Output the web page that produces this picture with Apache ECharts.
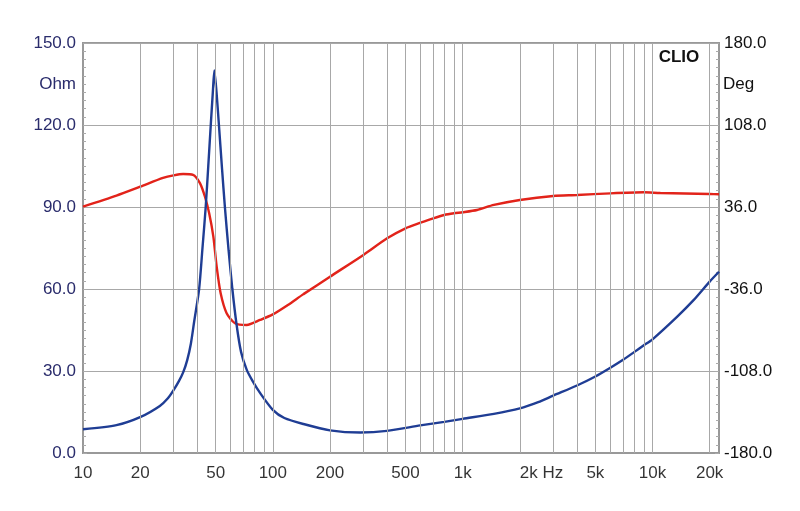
<!DOCTYPE html>
<html><head><meta charset="utf-8">
<script src="https://cdn.jsdelivr.net/npm/echarts@6/dist/echarts.min.js"></script>
<style>html,body{margin:0;padding:0;background:#fff}#c{width:800px;height:511px}</style>
</head><body><div id="c"></div>
<script>
// Impedance magnitude (Ohm, left axis)
const impFreq = [10, 15, 20, 25.4, 28, 30, 32, 33.7, 35.4, 37, 38.5, 40.9, 42.6, 44.3, 45.7, 47.1, 48.3, 49.2, 50.5, 52, 54, 55.9, 58.5, 61.2, 64.4, 68, 72.8, 78, 85.6, 100, 115, 145, 200, 289, 399, 598, 800, 1000, 1460, 2000, 2500, 3000, 4000, 5000, 6000, 7000, 8000, 9000, 10000, 13500, 16500, 20000, 22400];
const impOhm  = [8.7, 10.2, 13.1, 17.2, 20, 23, 26.3, 29.5, 34, 40, 48, 60, 75, 90, 105, 120, 132, 140, 132, 120, 104, 90, 74, 60, 47, 37, 30.5, 26.5, 22, 15.8, 12.8, 10.6, 8.3, 7.5, 8.1, 10.1, 11.4, 12.5, 14.3, 16.3, 18.6, 21.0, 24.7, 28.0, 31.2, 34.1, 36.9, 39.4, 41.6, 49.9, 56, 62.7, 66.3];
// Impedance phase (Deg, right axis)
const phaseFreq = [10, 15, 20, 26.4, 30, 33.7, 38, 41.3, 43.9, 46.2, 48.6, 50.6, 53.1, 57.1, 63.2, 72.8, 85.6, 100, 120, 145, 200, 300, 400, 500, 600, 700, 800, 900, 1000, 1190, 1460, 2000, 3000, 4000, 6000, 9000, 11000, 20000, 22400];
const phaseDeg  = [36.3, 46, 53.8, 61.5, 63.8, 65, 64.3, 57, 45, 30.5, 10, -16.4, -39.8, -57.3, -66.1, -67.6, -63.2, -58.3, -50, -40.5, -25.2, -6.1, 8.5, 17.3, 22.2, 26.1, 29, 30.5, 31.4, 33.4, 37.8, 42.2, 45.7, 46.5, 48, 48.9, 48.3, 47.4, 47.2];
// Axis labels and gridlines
const xTickValues = [10, 20, 50, 100, 200, 500, 1000, 2000, 5000, 10000, 20000];
const xTickLabels = ['10', '20', '50', '100', '200', '500', '1k', '2k Hz', '5k', '10k', '20k'];
const gridFreqs = [20, 30, 40, 50, 60, 70, 80, 90, 100, 200, 300, 400, 500, 600, 700, 800, 900, 1000, 2000, 3000, 4000, 5000, 6000, 7000, 8000, 9000, 10000, 20000];

const FONT = '"Liberation Sans", Arial, sans-serif';
const NAVY = '#2a2c6c';
const chart = echarts.init(document.getElementById('c'), null, {renderer: 'canvas'});

const tickData = xTickValues.map((v, i) => {
  const d = {value: [v, 0], name: xTickLabels[i]};
  if (xTickLabels[i] === '2k Hz') d.label = {align: 'left', offset: [-9, 0]};
  return d;
});

chart.setOption({
  animation: false,
  textStyle: {fontFamily: FONT},
  grid: {left: 83, right: 81, top: 43, bottom: 58, show: true, borderColor: '#999', borderWidth: 2, backgroundColor: '#fff'},
  xAxis: {
    type: 'log', logBase: 10, min: 10, max: 22400,
    axisLine: {show: true, lineStyle: {color: '#999', width: 2}},
    axisTick: {show: false}, axisLabel: {show: false}, splitLine: {show: false}, minorSplitLine: {show: false}
  },
  yAxis: [
    {
      type: 'value', min: 0, max: 150, interval: 30, position: 'left',
      axisLine: {show: true, lineStyle: {color: '#999', width: 2}},
      axisTick: {show: true, inside: true, length: 4, lineStyle: {color: '#aaa'}},
      minorTick: {show: true, splitNumber: 10, length: 3, lineStyle: {color: '#aaa'}},
      axisLabel: {color: NAVY, fontSize: 17, margin: 7, formatter: v => v.toFixed(1)},
      splitLine: {show: true, lineStyle: {color: '#a8a8a8', width: 1}}
    },
    {
      type: 'value', min: -180, max: 180, interval: 72, position: 'right',
      axisLine: {show: true, lineStyle: {color: '#999', width: 2}},
      axisTick: {show: true, inside: true, length: 4, lineStyle: {color: '#aaa'}},
      minorTick: {show: true, splitNumber: 10, length: 3, lineStyle: {color: '#aaa'}},
      axisLabel: {color: '#111', fontSize: 17, margin: 5, formatter: v => v.toFixed(1)},
      splitLine: {show: false}
    }
  ],
  series: [
    {
      type: 'line', yAxisIndex: 0, data: [], silent: true,
      markLine: {
        silent: true, symbol: 'none', label: {show: false},
        lineStyle: {color: '#a8a8a8', type: 'solid', width: 1},
        data: gridFreqs.map(f => ({xAxis: f}))
      }
    },
    {
      type: 'scatter', yAxisIndex: 0, symbolSize: 1, silent: true, clip: false,
      itemStyle: {color: 'rgba(0,0,0,0)'},
      label: {show: true, position: 'bottom', distance: 11, color: '#000', fontSize: 17, fontFamily: FONT,
        formatter: p => p.name},
      labelLayout: {hideOverlap: false},
      data: tickData
    },
    {
      name: 'Phase', type: 'line', yAxisIndex: 1, smooth: 0.25, showSymbol: false,
      lineStyle: {color: '#e2231a', width: 2.4}, itemStyle: {color: '#e2231a'},
      data: phaseFreq.map((f, i) => [f, phaseDeg[i]])
    },
    {
      name: 'Impedance', type: 'line', yAxisIndex: 0, smooth: 0.25, showSymbol: false,
      lineStyle: {color: '#1f3d94', width: 2.4}, itemStyle: {color: '#1f3d94'},
      data: impFreq.map((f, i) => [f, impOhm[i]])
    }
  ],
  graphic: [
    {type: 'text', x: 679, y: 57, style: {text: 'CLIO', font: 'bold 17px ' + FONT, fill: '#111', textAlign: 'center', textVerticalAlign: 'middle'}},
    {type: 'text', x: 76, y: 84, style: {text: 'Ohm', font: '17px ' + FONT, fill: NAVY, textAlign: 'right', textVerticalAlign: 'middle'}},
    {type: 'text', x: 723, y: 84, style: {text: 'Deg', font: '17px ' + FONT, fill: '#111', textAlign: 'left', textVerticalAlign: 'middle'}}
  ]
});
</script>
</body></html>
